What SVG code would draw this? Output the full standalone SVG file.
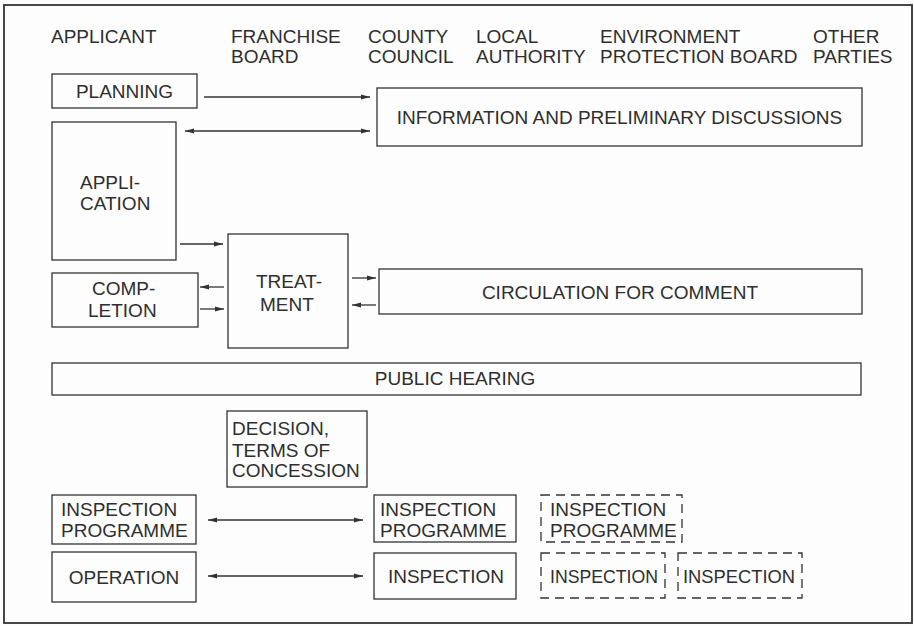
<svg xmlns="http://www.w3.org/2000/svg" width="914" height="626" viewBox="0 0 914 626">
<style>
text{font-family:"Liberation Sans",Arial,sans-serif;font-size:19px;fill:#2e2e2e}
.m{text-anchor:middle}
.b{fill:none;stroke:#333;stroke-width:1.3}
.d{fill:none;stroke:#333;stroke-width:1.3;stroke-dasharray:9 6}
.c{fill:none;stroke:#333;stroke-width:1.3}
</style>
<defs>
<marker id="ah" markerUnits="userSpaceOnUse" markerWidth="10" markerHeight="6" refX="9" refY="3" orient="auto-start-reverse">
<path d="M0,0.5 L9,3 L0,5.5 z" fill="#333"/>
</marker>
</defs>
<rect x="0" y="0" width="914" height="626" fill="#fdfdfd"/>
<rect x="4" y="5" width="908" height="618" fill="none" stroke="#333" stroke-width="1.8"/>
<g id="headers">
<text x="51" y="43">APPLICANT</text>
<text x="231" y="43">FRANCHISE</text><text x="231" y="63">BOARD</text>
<text x="368" y="43">COUNTY</text><text x="368" y="63">COUNCIL</text>
<text x="476" y="43">LOCAL</text><text x="476" y="63">AUTHORITY</text>
<text x="600" y="43">ENVIRONMENT</text><text x="600" y="63">PROTECTION BOARD</text>
<text x="813" y="43">OTHER</text><text x="813" y="63">PARTIES</text>
</g>
<g id="planning"><rect class="b" x="52" y="74" width="145" height="34"/><text class="m" x="124.5" y="98">PLANNING</text></g>
<g id="information"><rect class="b" x="377" y="88" width="485" height="58"/><text class="m" x="619.5" y="124">INFORMATION AND PRELIMINARY DISCUSSIONS</text></g>
<g id="application"><rect class="b" x="52" y="122" width="124" height="138"/><text x="80" y="189">APPLI-</text><text x="80" y="210">CATION</text></g>
<g id="treatment"><rect class="b" x="228" y="234" width="120" height="114"/><text x="256" y="288">TREAT-</text><text x="260" y="311">MENT</text></g>
<g id="completion"><rect class="b" x="52" y="273" width="146" height="54"/><text x="92" y="295">COMP-</text><text x="88" y="317">LETION</text></g>
<g id="circulation"><rect class="b" x="379" y="269" width="483" height="45"/><text class="m" x="620" y="299">CIRCULATION FOR COMMENT</text></g>
<g id="public-hearing"><rect class="b" x="52" y="363" width="809" height="32"/><text class="m" x="455" y="385">PUBLIC HEARING</text></g>
<g id="decision"><rect class="b" x="227" y="411" width="140" height="76"/><text x="232" y="435">DECISION,</text><text x="232" y="457">TERMS OF</text><text x="232" y="477">CONCESSION</text></g>
<g id="applicant-inspection-programme"><rect class="b" x="52" y="495" width="144" height="49"/><text x="61" y="516">INSPECTION</text><text x="61" y="537">PROGRAMME</text></g>
<g id="operation"><rect class="b" x="52" y="552" width="144" height="50"/><text class="m" x="124" y="584">OPERATION</text></g>
<g id="county-inspection-programme"><rect class="b" x="374" y="495" width="142" height="47"/><text x="380" y="516">INSPECTION</text><text x="380" y="537">PROGRAMME</text></g>
<g id="county-inspection"><rect class="b" x="374" y="553" width="142" height="46"/><text class="m" x="446" y="583">INSPECTION</text></g>
<g id="local-inspection-programme"><rect class="d" x="541" y="495" width="141" height="47"/><text x="550" y="516">INSPECTION</text><text x="550" y="537">PROGRAMME</text></g>
<g id="local-inspection"><rect class="d" x="541" y="553" width="124" height="45"/><text x="550" y="583" textLength="108" lengthAdjust="spacingAndGlyphs">INSPECTION</text></g>
<g id="environment-inspection"><rect class="d" x="678" y="553" width="124" height="45"/><text x="683" y="583" textLength="112" lengthAdjust="spacingAndGlyphs">INSPECTION</text></g>
<g id="connectors">
<line class="c" x1="204" y1="97" x2="370" y2="97" marker-end="url(#ah)"/>
<line class="c" x1="185" y1="131" x2="370" y2="131" marker-start="url(#ah)" marker-end="url(#ah)"/>
<line class="c" x1="180" y1="244" x2="223" y2="244" marker-end="url(#ah)"/>
<line class="c" x1="224" y1="287" x2="200" y2="287" marker-end="url(#ah)"/>
<line class="c" x1="200" y1="309" x2="224" y2="309" marker-end="url(#ah)"/>
<line class="c" x1="352" y1="278" x2="376" y2="278" marker-end="url(#ah)"/>
<line class="c" x1="376" y1="305" x2="352" y2="305" marker-end="url(#ah)"/>
<line class="c" x1="208" y1="520" x2="363" y2="520" marker-start="url(#ah)" marker-end="url(#ah)"/>
<line class="c" x1="208" y1="576" x2="363" y2="576" marker-start="url(#ah)" marker-end="url(#ah)"/>
</g>
</svg>
